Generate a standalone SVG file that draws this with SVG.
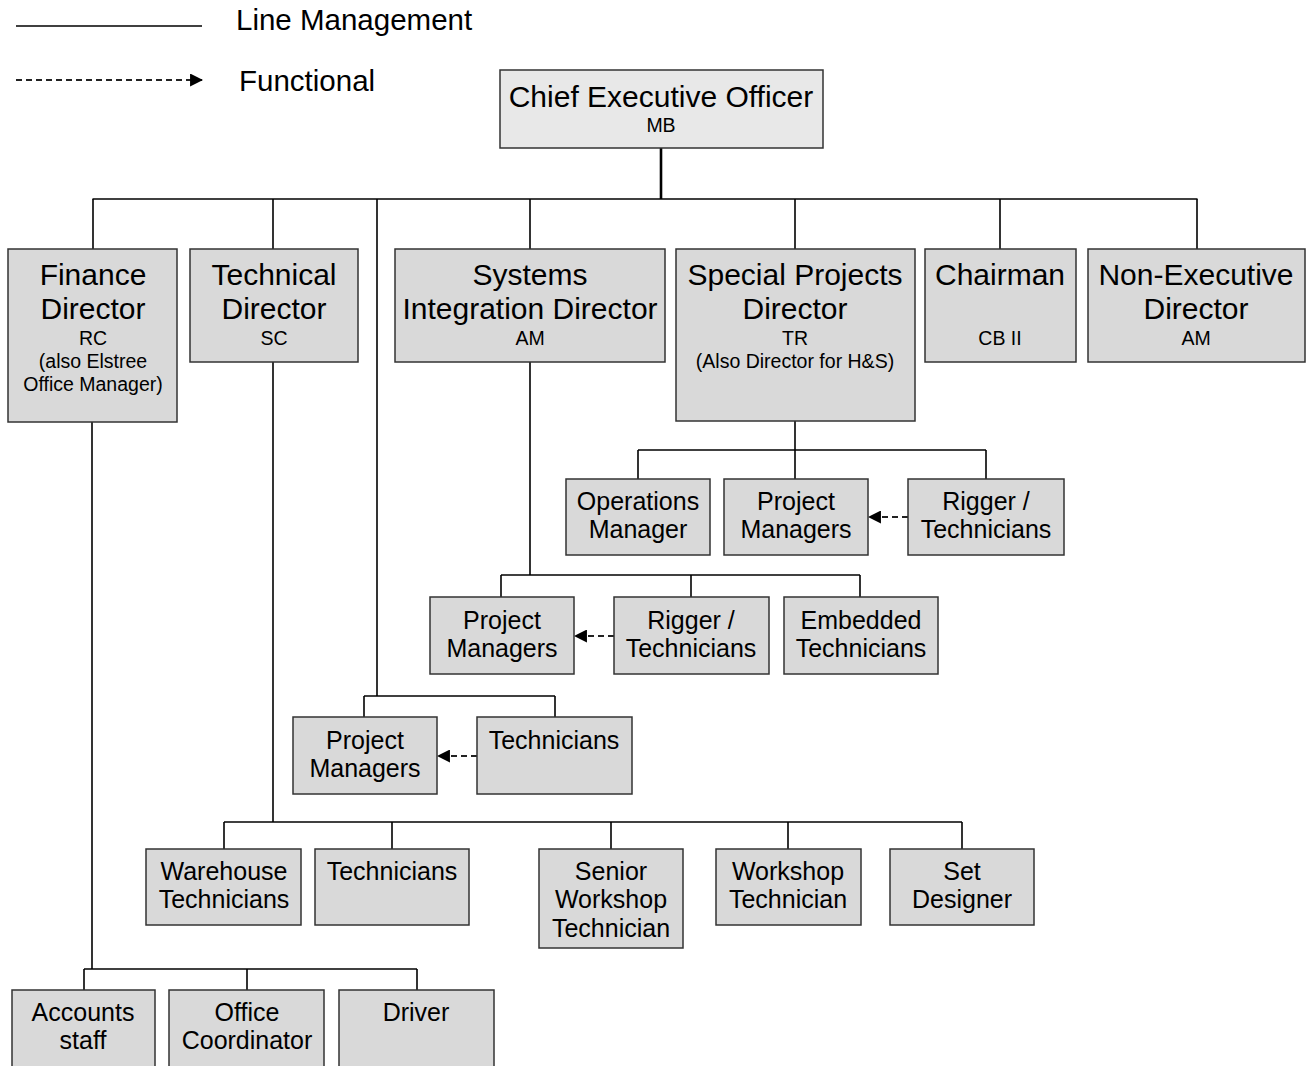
<svg xmlns="http://www.w3.org/2000/svg" width="1310" height="1066" viewBox="0 0 1310 1066">
<defs>
<style>
.box{fill:#d9d9d9;stroke:#333;stroke-width:1.5}
.ceo{fill:#e8e8e8;stroke:#333;stroke-width:1.5}
.ln{stroke:#000;stroke-width:1.6;fill:none}
.thick{stroke:#000;stroke-width:2.6;fill:none}
.dash{stroke:#222;stroke-width:1.8;stroke-dasharray:6 4;fill:none}
text{font-family:"Liberation Sans",Arial,sans-serif;fill:#000;text-anchor:middle}
.t1{font-size:30px}
.t2{font-size:25px}
.t3{font-size:19.5px}
.lg{font-size:29.5px;text-anchor:start}
</style>
<marker id="ah" viewBox="0 0 12 12" refX="11" refY="6" markerWidth="13" markerHeight="13" markerUnits="userSpaceOnUse" orient="auto">
<path d="M0,0 L12,6 L0,12 Z" fill="#000"/>
</marker>
</defs>

<g id="legend">
<line class="ln" x1="16" y1="26" x2="202" y2="26"/>
<text class="lg" x="236" y="30">Line Management</text>
<line class="dash" x1="16" y1="80" x2="202" y2="80" marker-end="url(#ah)"/>
<text class="lg" x="239" y="91">Functional</text>
</g>

<g id="connectors">
<line class="thick" x1="661" y1="148" x2="661" y2="199"/>
<line class="ln" x1="92.5" y1="199" x2="1197.5" y2="199"/>
<line class="ln" x1="93" y1="199" x2="93" y2="249"/>
<line class="ln" x1="273" y1="199" x2="273" y2="249"/>
<line class="ln" x1="530" y1="199" x2="530" y2="249"/>
<line class="ln" x1="795" y1="199" x2="795" y2="249"/>
<line class="ln" x1="1000" y1="199" x2="1000" y2="249"/>
<line class="ln" x1="1197" y1="199" x2="1197" y2="249"/>
<line class="ln" x1="795" y1="421" x2="795" y2="479"/>
<line class="ln" x1="638" y1="450" x2="986" y2="450"/>
<line class="ln" x1="638" y1="450" x2="638" y2="479"/>
<line class="ln" x1="986" y1="450" x2="986" y2="479"/>
<line class="dash" x1="908" y1="517" x2="869" y2="517" marker-end="url(#ah)"/>
<line class="ln" x1="530" y1="362" x2="530" y2="575"/>
<line class="ln" x1="501" y1="575" x2="860" y2="575"/>
<line class="ln" x1="501" y1="575" x2="501" y2="597"/>
<line class="ln" x1="691" y1="575" x2="691" y2="597"/>
<line class="ln" x1="860" y1="575" x2="860" y2="597"/>
<line class="dash" x1="614" y1="636" x2="575" y2="636" marker-end="url(#ah)"/>
<line class="ln" x1="377" y1="199" x2="377" y2="696"/>
<line class="ln" x1="364" y1="696" x2="555" y2="696"/>
<line class="ln" x1="364" y1="696" x2="364" y2="717"/>
<line class="ln" x1="555" y1="696" x2="555" y2="717"/>
<line class="dash" x1="477" y1="756" x2="438" y2="756" marker-end="url(#ah)"/>
<line class="ln" x1="273" y1="362" x2="273" y2="822"/>
<line class="ln" x1="224" y1="822" x2="962" y2="822"/>
<line class="ln" x1="224" y1="822" x2="224" y2="849"/>
<line class="ln" x1="392" y1="822" x2="392" y2="849"/>
<line class="ln" x1="611" y1="822" x2="611" y2="849"/>
<line class="ln" x1="788" y1="822" x2="788" y2="849"/>
<line class="ln" x1="962" y1="822" x2="962" y2="849"/>
<line class="ln" x1="92" y1="422" x2="92" y2="969"/>
<line class="ln" x1="84" y1="969" x2="417" y2="969"/>
<line class="ln" x1="84" y1="969" x2="84" y2="990"/>
<line class="ln" x1="247" y1="969" x2="247" y2="990"/>
<line class="ln" x1="417" y1="969" x2="417" y2="990"/>
</g>

<g id="ceo">
<rect class="ceo" x="500" y="70" width="323" height="78"/>
<text class="t1" x="661" y="107">Chief Executive Officer</text>
<text class="t3" x="661" y="132">MB</text>
</g>

<g id="finance-director">
<rect class="box" x="8" y="249" width="169" height="173"/>
<text class="t1" x="93" y="285">Finance</text>
<text class="t1" x="93" y="319">Director</text>
<text class="t3" x="93" y="345">RC</text>
<text class="t3" x="93" y="368">(also Elstree</text>
<text class="t3" x="93" y="391">Office Manager)</text>
</g>

<g id="technical-director">
<rect class="box" x="190" y="249" width="168" height="113"/>
<text class="t1" x="274" y="285">Technical</text>
<text class="t1" x="274" y="319">Director</text>
<text class="t3" x="274" y="345">SC</text>
</g>

<g id="systems-director">
<rect class="box" x="395" y="249" width="270" height="113"/>
<text class="t1" x="530" y="285">Systems</text>
<text class="t1" x="530" y="319">Integration Director</text>
<text class="t3" x="530" y="345">AM</text>
</g>

<g id="special-director">
<rect class="box" x="676" y="249" width="239" height="172"/>
<text class="t1" x="795" y="285">Special Projects</text>
<text class="t1" x="795" y="319">Director</text>
<text class="t3" x="795" y="345">TR</text>
<text class="t3" x="795" y="368">(Also Director for H&amp;S)</text>
</g>

<g id="chairman">
<rect class="box" x="925" y="249" width="151" height="113"/>
<text class="t1" x="1000" y="285">Chairman</text>
<text class="t3" x="1000" y="345">CB II</text>
</g>

<g id="non-exec-director">
<rect class="box" x="1088" y="249" width="217" height="113"/>
<text class="t1" x="1196" y="285">Non-Executive</text>
<text class="t1" x="1196" y="319">Director</text>
<text class="t3" x="1196" y="345">AM</text>
</g>

<g id="sp-operations-manager">
<rect class="box" x="566" y="479" width="144" height="76"/>
<text class="t2" x="638" y="510">Operations</text>
<text class="t2" x="638" y="538">Manager</text>
</g>
<g id="sp-project-managers">
<rect class="box" x="724" y="479" width="144" height="76"/>
<text class="t2" x="796" y="510">Project</text>
<text class="t2" x="796" y="538">Managers</text>
</g>
<g id="sp-rigger">
<rect class="box" x="908" y="479" width="156" height="76"/>
<text class="t2" x="986" y="510">Rigger /</text>
<text class="t2" x="986" y="538">Technicians</text>
</g>

<g id="si-project-managers">
<rect class="box" x="430" y="597" width="144" height="77"/>
<text class="t2" x="502" y="629">Project</text>
<text class="t2" x="502" y="657">Managers</text>
</g>
<g id="si-rigger">
<rect class="box" x="614" y="597" width="155" height="77"/>
<text class="t2" x="691" y="629">Rigger /</text>
<text class="t2" x="691" y="657">Technicians</text>
</g>
<g id="si-embedded">
<rect class="box" x="784" y="597" width="154" height="77"/>
<text class="t2" x="861" y="629">Embedded</text>
<text class="t2" x="861" y="657">Technicians</text>
</g>

<g id="pm-project-managers">
<rect class="box" x="293" y="717" width="144" height="77"/>
<text class="t2" x="365" y="749">Project</text>
<text class="t2" x="365" y="777">Managers</text>
</g>
<g id="pm-technicians">
<rect class="box" x="477" y="717" width="155" height="77"/>
<text class="t2" x="554" y="749">Technicians</text>
</g>

<g id="warehouse-technicians">
<rect class="box" x="146" y="849" width="155" height="76"/>
<text class="t2" x="224" y="880">Warehouse</text>
<text class="t2" x="224" y="908">Technicians</text>
</g>
<g id="td-technicians">
<rect class="box" x="315" y="849" width="154" height="76"/>
<text class="t2" x="392" y="880">Technicians</text>
</g>
<g id="senior-workshop-technician">
<rect class="box" x="539" y="849" width="144" height="99"/>
<text class="t2" x="611" y="880">Senior</text>
<text class="t2" x="611" y="908">Workshop</text>
<text class="t2" x="611" y="937">Technician</text>
</g>
<g id="workshop-technician">
<rect class="box" x="716" y="849" width="145" height="76"/>
<text class="t2" x="788" y="880">Workshop</text>
<text class="t2" x="788" y="908">Technician</text>
</g>
<g id="set-designer">
<rect class="box" x="890" y="849" width="144" height="76"/>
<text class="t2" x="962" y="880">Set</text>
<text class="t2" x="962" y="908">Designer</text>
</g>

<g id="accounts-staff">
<rect class="box" x="12" y="990" width="143" height="90"/>
<text class="t2" x="83" y="1021">Accounts</text>
<text class="t2" x="83" y="1049">staff</text>
</g>
<g id="office-coordinator">
<rect class="box" x="169" y="990" width="155" height="90"/>
<text class="t2" x="247" y="1021">Office</text>
<text class="t2" x="247" y="1049">Coordinator</text>
</g>
<g id="driver">
<rect class="box" x="339" y="990" width="155" height="90"/>
<text class="t2" x="416" y="1021">Driver</text>
</g>
</svg>
